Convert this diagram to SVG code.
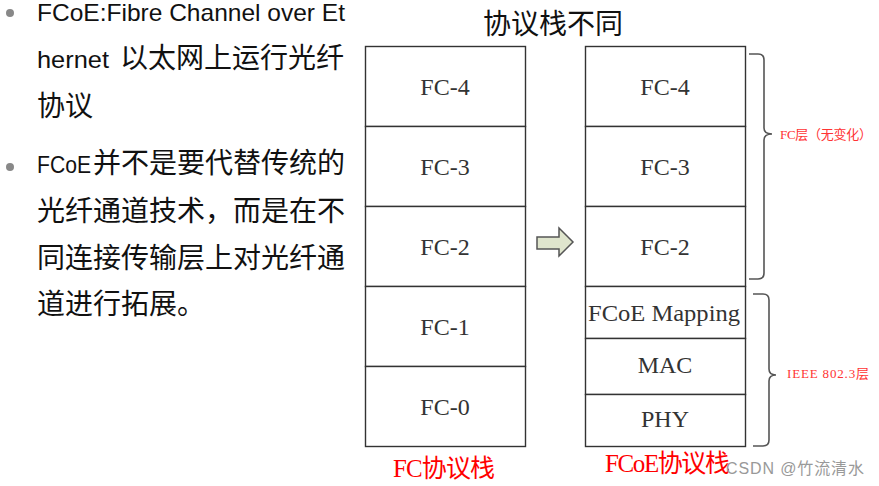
<svg xmlns="http://www.w3.org/2000/svg" width="879" height="486" viewBox="0 0 879 486">
  <style>
    .body { font-family: "Noto Sans CJK SC", "Open Sans", sans-serif; font-size: 28px; fill: #111; }
    .lat { font-family: "Liberation Sans", "Noto Sans CJK SC", sans-serif; font-size: 24px; }
    .layer { fill: #fff; stroke: #333; stroke-width: 1.4; }
    .lbl { font-family: "Liberation Serif", "Noto Sans CJK SC", serif; font-size: 24px; fill: #333; text-anchor: middle; }
    .red { font-family: "Liberation Serif", "Noto Sans CJK SC", serif; fill: #ff0000; }
    .note { font-family: "Liberation Serif", "Noto Sans CJK SC", serif; fill: #f33; font-size: 13px; }
    .brace { fill: none; stroke: #555; stroke-width: 1.6; }
  </style>

  <rect width="879" height="486" fill="#fff"/>

  <!-- bullet text -->
  <g id="bullets">
    <circle cx="10" cy="13" r="4" fill="#888"/>
    <text class="body lat" x="37" y="21" font-size="22" textLength="308" lengthAdjust="spacingAndGlyphs">FCoE:Fibre Channel over Et</text>
    <text class="body lat" x="37" y="68" textLength="72" lengthAdjust="spacingAndGlyphs">hernet</text>
    <text class="body" x="120" y="68">以太网上运行光纤</text>
    <text class="body" x="37" y="116">协议</text>

    <circle cx="10" cy="167" r="4" fill="#888"/>
    <text class="body lat" x="37" y="173" textLength="54" lengthAdjust="spacingAndGlyphs">FCoE</text>
    <text class="body" x="93" y="173">并不是要代替传统的</text>
    <text class="body" x="37" y="221">光纤通道技术，而是在不</text>
    <text class="body" x="37" y="268">同连接传输层上对光纤通</text>
    <text class="body" x="37" y="314">道进行拓展。</text>
  </g>

  <!-- title -->
  <text id="title" class="body" x="483" y="34" textLength="140">协议栈不同</text>

  <!-- FC protocol stack -->
  <g id="fc-stack">
    <rect class="layer" x="365.5" y="46.5" width="160" height="80"/>
    <rect class="layer" x="365.5" y="126.5" width="160" height="80"/>
    <rect class="layer" x="365.5" y="206.5" width="160" height="80"/>
    <rect class="layer" x="365.5" y="286.5" width="160" height="80"/>
    <rect class="layer" x="365.5" y="366.5" width="160" height="80"/>
    <text class="lbl" x="445" y="95">FC-4</text>
    <text class="lbl" x="445" y="175">FC-3</text>
    <text class="lbl" x="445" y="255">FC-2</text>
    <text class="lbl" x="445" y="335">FC-1</text>
    <text class="lbl" x="445" y="415">FC-0</text>
    <text class="red" x="393" y="477" font-size="25" textLength="102">FC协议栈</text>
  </g>

  <!-- FCoE protocol stack -->
  <g id="fcoe-stack">
    <rect class="layer" x="585.5" y="46.5" width="160" height="80"/>
    <rect class="layer" x="585.5" y="126.5" width="160" height="80"/>
    <rect class="layer" x="585.5" y="206.5" width="160" height="80"/>
    <rect class="layer" x="585.5" y="286.5" width="160" height="52"/>
    <rect class="layer" x="585.5" y="338.5" width="160" height="56"/>
    <rect class="layer" x="585.5" y="394.5" width="160" height="52"/>
    <text class="lbl" x="665" y="95">FC-4</text>
    <text class="lbl" x="665" y="175">FC-3</text>
    <text class="lbl" x="665" y="255">FC-2</text>
    <text class="lbl" x="664" y="321" textLength="152" lengthAdjust="spacingAndGlyphs">FCoE Mapping</text>
    <text class="lbl" x="665" y="373">MAC</text>
    <text class="lbl" x="665" y="427">PHY</text>
    <text class="red" x="605" y="472" font-size="25" textLength="125">FCoE协议栈</text>
  </g>

  <!-- arrow and braces -->
  <g id="connectors">
    <polygon points="537,237 559,237 559,228 573,242 559,256 559,249 537,249" fill="#dfe5cd" stroke="#555" stroke-width="1.5" stroke-linejoin="miter"/>
    <path class="brace" d="M749,54 H758 Q764,54 764,60 V128 Q764,134 772,134 Q764,134 764,140 V273 Q764,279 758,279 H749"/>
    <path class="brace" d="M753,294 H763 Q769,294 769,300 V369 Q769,375 776,375 Q769,375 769,381 V440 Q769,446 763,446 H753"/>
  </g>

  <g id="notes">
    <text class="note" x="780" y="139" textLength="92">FC层（无变化）</text>
    <text class="note" x="787" y="378" font-size="14" textLength="82">IEEE 802.3层</text>
  </g>

  <text id="watermark" x="726" y="474" font-family="Liberation Sans, Noto Sans CJK SC, sans-serif" font-size="16" fill="#999" textLength="138">CSDN @竹流清水</text>
</svg>
